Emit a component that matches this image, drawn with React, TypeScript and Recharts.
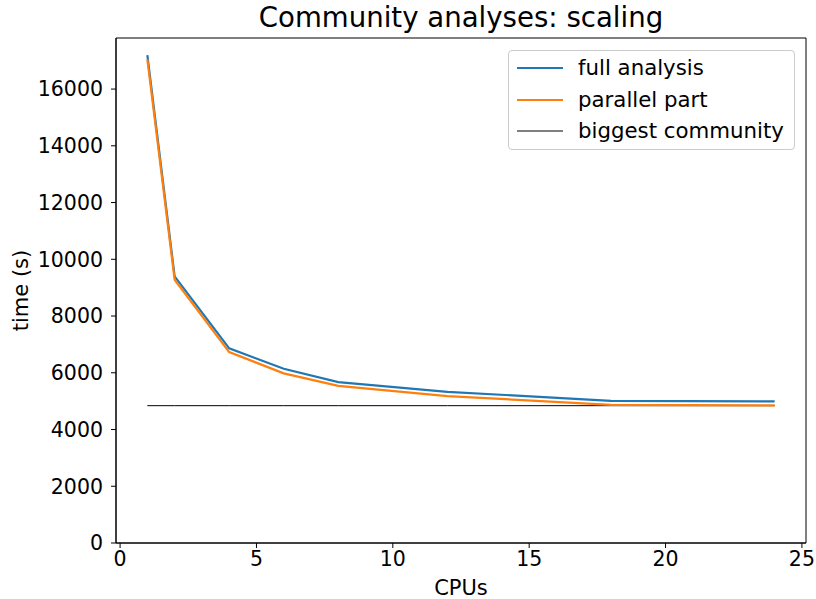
import React from 'react';
import { LineChart, Line, XAxis, YAxis, ReferenceArea } from 'recharts';

const cpus = [1, 2, 4, 6, 8, 12, 18, 24];
const fullAnalysis = [17200, 9400, 6860, 6140, 5670, 5330, 5010, 4990];
const parallelPart = [17050, 9280, 6730, 5980, 5540, 5180, 4870, 4850];
const biggestCommunity = [4840, 4840, 4840, 4840, 4840, 4840, 4840, 4840];
const xTicks = [0, 5, 10, 15, 20, 25];
const yTicks = [0, 2000, 4000, 6000, 8000, 10000, 12000, 14000, 16000];

const data = cpus.map((c, i) => ({
  cpu: c,
  full: fullAnalysis[i],
  parallel: parallelPart[i],
  biggest: biggestCommunity[i],
}));

const FONT = '"DejaVu Sans", sans-serif';
const legendItems = [
  { label: 'full analysis', color: '#1f77b4', width: 2.2 },
  { label: 'parallel part', color: '#ff7f0e', width: 2.2 },
  { label: 'biggest community', color: '#000000', width: 1 },
];

const LegendBox = () => (
  <div
    style={{
      position: 'absolute',
      left: 508,
      top: 50,
      width: 287,
      height: 100,
      boxSizing: 'border-box',
      border: '1px solid #cccccc',
      borderRadius: 4,
      background: 'rgba(255,255,255,0.8)',
      padding: '1px 0 0 8px',
      fontFamily: FONT,
      fontSize: 21.3,
      color: '#000',
    }}
  >
    {legendItems.map((it) => (
      <div key={it.label} style={{ display: 'flex', alignItems: 'center', height: 31.7 }}>
        <svg width={46} height={10} style={{ marginRight: 15 }}>
          <line x1={0} x2={46} y1={5} y2={5} stroke={it.color} strokeWidth={it.width} />
        </svg>
        <span style={{ lineHeight: '24px', whiteSpace: 'nowrap' }}>{it.label}</span>
      </div>
    ))}
  </div>
);

const YLabel = (props: any) => {
  const vb = props.viewBox || {};
  const cx = 21;
  const cy = vb.y + vb.height / 2;
  return (
    <text
      x={cx}
      y={cy}
      transform={`rotate(-90, ${cx}, ${cy})`}
      textAnchor="middle"
      dominantBaseline="central"
      fontFamily={FONT}
      fontSize={21}
      fill="#000"
    >
      time (s)
    </text>
  );
};

const XLabel = (props: any) => {
  const vb = props.viewBox || {};
  const cx = vb.x + vb.width / 2;
  return (
    <text
      x={cx}
      y={vb.y + 52}
      textAnchor="middle"
      fontFamily={FONT}
      fontSize={21}
      fill="#000"
    >
      CPUs
    </text>
  );
};

export default function App() {
  return (
    <div style={{ position: 'absolute', left: 0, top: 0, width: 816, height: 599, background: '#fff' }}>
      <div
        style={{
          position: 'absolute',
          left: 116,
          width: 690,
          top: 1,
          textAlign: 'center',
          fontFamily: FONT,
          fontSize: 27.6,
          lineHeight: '34px',
          color: '#000',
        }}
      >
        Community analyses: scaling
      </div>
      <LineChart
        width={816}
        height={599}
        data={data}
        margin={{ top: 38, right: 10, bottom: 0, left: 0 }}
      >
        <XAxis
          dataKey="cpu"
          type="number"
          domain={[-0.15, 25.15]}
          ticks={xTicks}
          allowDataOverflow
          height={56}
          tickSize={5}
          tickMargin={3}
          axisLine={{ stroke: '#000', strokeWidth: 1 }}
          tickLine={{ stroke: '#000', strokeWidth: 1 }}
          tick={{ fill: '#000', fontSize: 20.5, fontFamily: FONT }}
          label={<XLabel />}
        />
        <YAxis
          type="number"
          domain={[0, 17800]}
          ticks={yTicks}
          allowDataOverflow
          width={116}
          tickSize={5}
          tickMargin={8}
          axisLine={{ stroke: '#000', strokeWidth: 1 }}
          tickLine={{ stroke: '#000', strokeWidth: 1 }}
          tick={{ fill: '#000', fontSize: 20.5, fontFamily: FONT }}
          label={<YLabel />}
        />
        <ReferenceArea
          x1={-0.15}
          x2={25.15}
          y1={0}
          y2={17800}
          fill="none"
          fillOpacity={0}
          stroke="#000"
          strokeWidth={1}
        />
        <Line
          dataKey="biggest"
          stroke="#000"
          strokeWidth={1}
          dot={false}
          activeDot={false}
          isAnimationActive={false}
        />
        <Line
          dataKey="full"
          stroke="#1f77b4"
          strokeWidth={2.2}
          dot={false}
          activeDot={false}
          isAnimationActive={false}
        />
        <Line
          dataKey="parallel"
          stroke="#ff7f0e"
          strokeWidth={2.2}
          dot={false}
          activeDot={false}
          isAnimationActive={false}
        />
      </LineChart>
      <LegendBox />
    </div>
  );
}
